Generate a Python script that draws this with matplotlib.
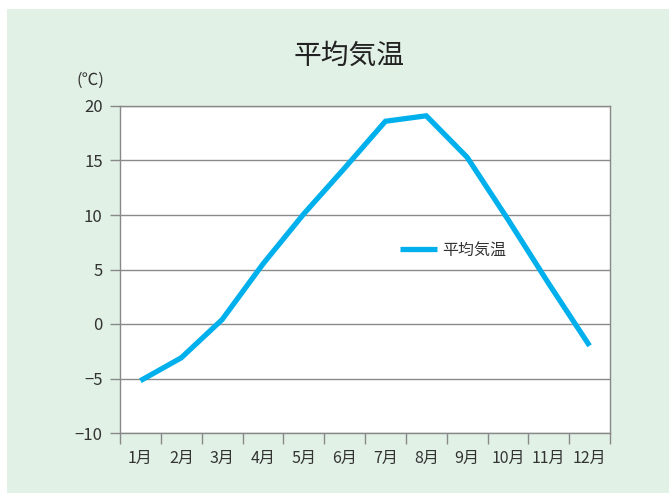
import matplotlib
matplotlib.use("Agg")
import matplotlib.pyplot as plt
from matplotlib.patches import Rectangle

plt.rcParams['font.family'] = ['Noto Sans CJK JP', 'DejaVu Sans']

months = ['1月', '2月', '3月', '4月', '5月', '6月', '7月', '8月', '9月', '10月', '11月', '12月']
temps = [-5.2, -3.1, 0.4, 5.5, 10.1, 14.3, 18.6, 19.1, 15.3, 9.6, 3.7, -2.0]
yticks = [-10, -5, 0, 5, 10, 15, 20]
series_name = '平均気温'
title = '平均気温'
unit = '(℃)'

fig = plt.figure(figsize=(6.69, 4.94), dpi=100)
fig.patch.set_facecolor('white')
fig.patches.append(Rectangle((7/669, 1/494), 662/669, 484/494, transform=fig.transFigure,
                             facecolor='#e1f1e6', edgecolor='none', zorder=-10))

ax = fig.add_axes([120/669, 1-433/494, 490/669, 327/494])
ax.set_facecolor('white')

x = list(range(1, len(months) + 1))
ax.plot(x, temps, color='#00b0ec', linewidth=3.8, solid_joinstyle='miter',
        solid_capstyle='butt', label=series_name, zorder=3)

ax.set_xlim(0.5, len(months) + 0.5)
ax.set_ylim(-10, 20)
ax.set_yticks(yticks)
ax.set_yticklabels([('−' + str(abs(v))) if v < 0 else str(v) for v in yticks])
ax.grid(axis='y', color='#8a8a8a', linewidth=1.0, zorder=1)

ax.set_xticks(x)
ax.set_xticklabels(months)
ax.set_xticks([i + 0.5 for i in range(0, len(months) + 1)], minor=True)
ax.tick_params(axis='x', which='major', length=0, pad=12, labelsize=11.5, labelcolor='#333333')
ax.tick_params(axis='x', which='minor', length=8, width=1.0, color='#888888')
ax.tick_params(axis='y', which='major', length=7.5, width=1.0, color='#888888',
               pad=5, labelsize=12, labelcolor='#333333')

for s in ['left', 'right', 'bottom', 'top']:
    ax.spines[s].set_color('#888888')
    ax.spines[s].set_linewidth(1.0)

fig.text(349/669, 1-56/494, title, ha='center', va='center', fontsize=20, color='#222222')
fig.text(90/669, 1-80/494, unit, ha='center', va='center', fontsize=12, color='#333333')

ax.legend(loc='center left', bbox_to_anchor=((400-120)/490, (433-250)/327),
          frameon=False, fontsize=11.5, handlelength=2.3, handletextpad=0.35,
          borderpad=0, borderaxespad=0, labelcolor='#333333')

fig.savefig('out.png', dpi=100)
